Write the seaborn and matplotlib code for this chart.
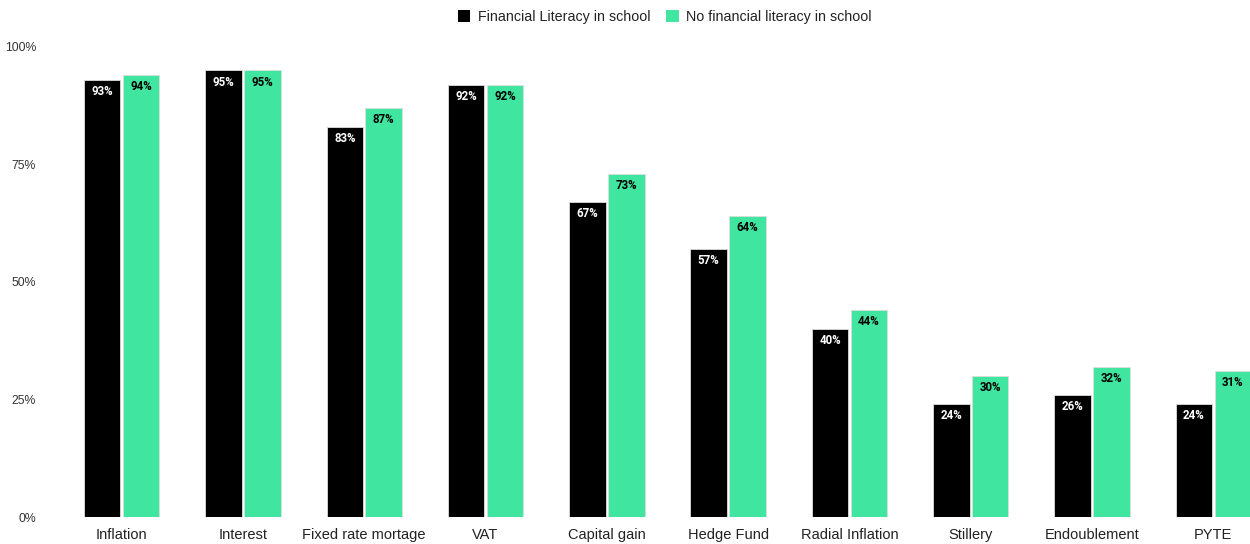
import matplotlib
matplotlib.use("Agg")
import matplotlib.pyplot as plt
import seaborn as sns
import pandas as pd
from matplotlib.patches import Patch

categories = ["Inflation", "Interest", "Fixed rate mortage", "VAT", "Capital gain",
              "Hedge Fund", "Radial Inflation", "Stillery", "Endoublement", "PYTE"]
series_names = ["Financial Literacy in school", "No financial literacy in school"]
with_school = [93, 95, 83, 92, 67, 57, 40, 24, 26, 24]
without_school = [94, 95, 87, 92, 73, 64, 44, 30, 32, 31]
y_ticks = [0, 25, 50, 75, 100]
colors = ["#000000", "#40E5A0"]

df = pd.DataFrame({
    "category": categories * 2,
    "group": [series_names[0]] * len(categories) + [series_names[1]] * len(categories),
    "value": with_school + without_school,
})

sns.set_theme(style="white")
plt.rcParams["font.family"] = ["Liberation Sans", "DejaVu Sans"]

fig = plt.figure(figsize=(12.5, 5.44), dpi=100)
step_px = 121.3
left_px = 61
ax = fig.add_axes([left_px / 1250, 27 / 544, (1250 - left_px) / 1250, 470 / 544])

sns.barplot(data=df, x="category", y="value", hue="group", order=categories,
            hue_order=series_names, palette=colors, width=0.64, gap=0.06,
            saturation=1, edgecolor="#dddddd", linewidth=0.6, ax=ax, legend=False)

visible = (1250 - left_px) / step_px
ax.set_xlim(-0.5, -0.5 + visible)
ax.set_ylim(0, 100)
ax.set_yticks(y_ticks)
ax.set_yticklabels([f"{t}%" for t in y_ticks], fontsize=8.8, color="#333333")
ax.tick_params(axis="y", length=0, pad=18)
ax.tick_params(axis="x", length=0, pad=8, labelsize=10.5, labelcolor="#222222")
ax.set_xlabel("")
ax.set_ylabel("")
for s in ax.spines.values():
    s.set_visible(False)

label_colors = ["white", "black"]
for container, lc in zip(ax.containers, label_colors):
    ax.bar_label(container, labels=[f"{v:.0f}%" for v in container.datavalues],
                 label_type="edge", padding=-13, color=lc, fontsize=8.3,
                 fontweight="bold", family=["Roboto", "DejaVu Sans"])

handles = [Patch(facecolor=c, edgecolor="none") for c in colors]
fig.legend(handles, series_names, loc="upper center", bbox_to_anchor=(0.532, 1.005),
           ncol=2, frameon=False, fontsize=10.3, handlelength=0.85, handleheight=0.85,
           handletextpad=0.55, columnspacing=1.1, labelcolor="#222222")

fig.savefig("out.png", dpi=100)
